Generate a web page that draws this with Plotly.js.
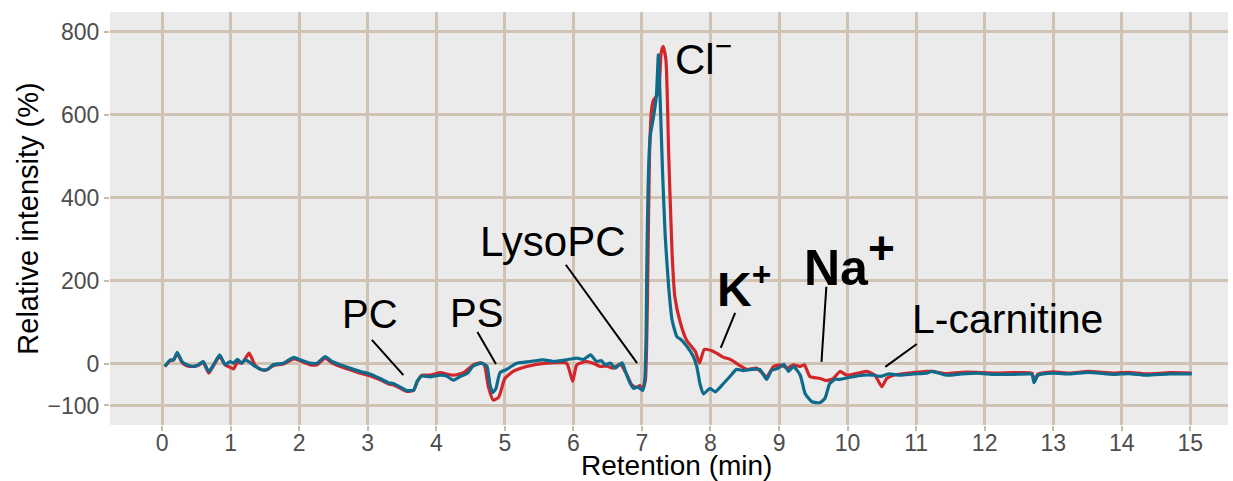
<!DOCTYPE html>
<html>
<head>
<meta charset="utf-8">
<script src="https://cdn.plot.ly/plotly-3.0.1.min.js"></script>
<style>html,body{margin:0;padding:0;background:#fff;}#chart{width:1233px;height:481px;}</style>
</head>
<body>
<div id="chart"></div>
<script>
// Retention time (min) and relative intensity (%) — blue trace
const blueX = [0.04,0.12,0.17,0.22,0.29,0.36,0.46,0.53,0.60,0.68,0.75,0.84,0.92,0.99,1.04,1.10,1.16,1.21,1.28,1.36,1.45,1.53,1.62,1.77,1.92,2.01,2.16,2.26,2.38,2.48,2.60,2.74,2.89,3.03,3.18,3.30,3.37,3.47,3.57,3.67,3.72,3.79,3.91,4.06,4.15,4.25,4.35,4.45,4.54,4.66,4.74,4.78,4.82,4.87,4.93,5.03,5.17,5.37,5.56,5.71,5.90,6.05,6.15,6.25,6.34,6.41,6.46,6.54,6.61,6.71,6.76,6.83,6.88,6.94,7.01,7.04,7.06,7.07,7.09,7.12,7.17,7.21,7.24,7.26,7.30,7.34,7.39,7.44,7.51,7.56,7.65,7.75,7.80,7.85,7.90,7.99,8.07,8.19,8.29,8.38,8.48,8.60,8.72,8.82,8.89,8.99,9.07,9.14,9.21,9.31,9.38,9.48,9.60,9.67,9.74,9.82,9.89,10.04,10.23,10.38,10.48,10.60,10.77,10.96,11.15,11.23,11.44,11.66,11.88,12.15,12.42,12.69,12.72,12.78,13.00,13.25,13.51,13.88,14.10,14.36,14.70,15.02];
const blueY = [-6,10,10,28,6,-2,-6,-2,6,-18,-2,22,-2,6,2,11,2,10,4,-6,-14,-14,-2,2,16,10,2,2,18,6,-2,-10,-18,-24,-35,-45,-47,-55,-64,-63,-42,-29,-31,-27,-29,-39,-30,-23,-5,2,-6,-47,-69,-59,-21,-13,2,6,10,6,10,14,11,22,6,8,-2,2,-10,3,-18,-47,-59,-55,-64,-40,60,220,427,548,596,644,745,668,467,307,186,106,66,60,44,18,-6,-50,-72,-59,-67,-47,-29,-13,-16,-13,-13,-37,-16,-10,-1,-18,-6,-27,-71,-91,-93,-83,-47,-37,-37,-32,-27,-27,-30,-24,-27,-24,-22,-18,-27,-24,-22,-25,-25,-25,-45,-27,-22,-24,-20,-25,-23,-27,-24,-24];
// red trace
const redX = [0.04,0.12,0.17,0.22,0.29,0.36,0.46,0.53,0.60,0.68,0.75,0.84,0.92,0.99,1.04,1.10,1.16,1.21,1.27,1.36,1.45,1.53,1.62,1.77,1.92,2.01,2.16,2.26,2.38,2.48,2.60,2.74,2.89,3.03,3.18,3.30,3.37,3.47,3.57,3.67,3.72,3.79,3.91,4.06,4.15,4.25,4.40,4.54,4.64,4.70,4.76,4.83,4.91,5.00,5.12,5.32,5.61,5.90,5.95,5.99,6.05,6.19,6.29,6.39,6.49,6.58,6.68,6.78,6.85,6.92,6.97,7.01,7.05,7.08,7.11,7.14,7.17,7.24,7.28,7.31,7.35,7.39,7.44,7.48,7.56,7.65,7.78,7.84,7.91,8.02,8.09,8.19,8.29,8.41,8.53,8.67,8.82,8.92,9.02,9.12,9.21,9.31,9.37,9.45,9.60,9.69,9.79,9.89,9.99,10.18,10.28,10.40,10.50,10.57,10.67,10.96,11.15,11.23,11.44,11.66,11.88,12.15,12.42,12.69,12.72,12.78,13.00,13.25,13.51,13.88,14.10,14.36,14.70,15.02];
const redY = [-6,8,10,25,4,-4,-6,-3,4,-22,-4,18,-2,-8,-12,4,2,12,26,-4,-14,-14,-4,0,12,8,-2,-2,14,2,-6,-14,-22,-28,-38,-48,-50,-58,-66,-63,-44,-27,-27,-21,-24,-27,-21,-2,3,-2,-55,-87,-80,-35,-18,-6,2,2,-20,-42,-2,6,2,-6,-5,-10,0,-26,-50,-57,-52,-62,-40,150,500,612,636,652,749,765,733,508,267,162,100,58,30,2,35,32,26,16,11,-2,-13,-10,-30,-6,-2,-10,-2,-6,-2,-30,-35,-40,-35,-18,-27,-21,-18,-27,-55,-35,-27,-21,-18,-18,-23,-20,-20,-22,-21,-22,-40,-24,-19,-22,-18,-22,-20,-24,-21,-22];

const xTicks = [0,1,2,3,4,5,6,7,8,9,10,11,12,13,14,15];
const yTicks = [-100,0,200,400,600,800];
const xTitle = 'Retention (min)';
const yTitle = 'Relative intensity (%)';

// annotation labels
const labelText = ['PC','PS','LysoPC','Cl<sup>−</sup>','<b>K<sup>+</sup></b>','<b>Na<sup><span style="font-size:46px">+</span></sup></b>','L-carnitine'];
const labelX = [3.03,4.58,5.70,7.45,8.06,9.33,10.91];
const labelY = [120,122,294,741,188,252,108];
const labelAnchor = ['center','center','center','left','left','left','left'];
const labelSize = [40,40,42,42,48,50,41];
// leader lines: start (near label) and end (near curve)
const lineX0 = [3.06,4.60,5.89,8.36,9.69,11.01];
const lineY0 = [58,77,239,123,186,48];
const lineX1 = [3.52,4.87,6.93,8.15,9.62,10.55];
const lineY1 = [-27,0,2,39,5,-7];

const FONT = 'Liberation Sans, Arial, Helvetica, sans-serif';

const traces = [
  {x: redX, y: redY, type: 'scatter', mode: 'lines', line: {color: '#d2262b', width: 3.2, shape: 'spline', smoothing: 0.5}, hoverinfo: 'skip'},
  {x: blueX, y: blueY, type: 'scatter', mode: 'lines', line: {color: '#0f6b8c', width: 3.2, shape: 'spline', smoothing: 0.5}, hoverinfo: 'skip'}
];

const annotations = labelText.map((t, i) => ({
  x: labelX[i], y: labelY[i], xref: 'x', yref: 'y', text: t, showarrow: false,
  xanchor: labelAnchor[i], yanchor: 'middle',
  font: {family: FONT, size: labelSize[i], color: '#000'}
}));
// x-axis title placed just below the tick labels
annotations.push({
  x: 0.507, y: -0.098, xref: 'paper', yref: 'paper', text: xTitle, showarrow: false,
  xanchor: 'center', yanchor: 'middle', borderpad: 0, font: {family: FONT, size: 28, color: '#000'}
});

const shapes = lineX0.map((_, i) => ({
  type: 'line', xref: 'x', yref: 'y', x0: lineX0[i], y0: lineY0[i], x1: lineX1[i], y1: lineY1[i],
  line: {color: '#000', width: 2}
}));

const layout = {
  width: 1233, height: 481,
  margin: {l: 110, r: 5, t: 12, b: 56},
  paper_bgcolor: '#ffffff', plot_bgcolor: '#ebebeb',
  showlegend: false,
  font: {family: FONT},
  xaxis: {
    range: [-0.76, 15.55], tickvals: xTicks, ticktext: xTicks.map(String),
    showgrid: true, gridcolor: '#d1c3b3', gridwidth: 3, zeroline: false,
    ticks: 'outside', ticklen: 5, tickwidth: 2, tickcolor: '#c9bcab',
    ticklabelstandoff: -8,
    tickfont: {family: FONT, size: 23, color: '#4d4d4d'},
    showline: false
  },
  yaxis: {
    range: [-147, 848], tickvals: yTicks, ticktext: yTicks.map(v => v < 0 ? '−' + Math.abs(v) : String(v)),
    showgrid: true, gridcolor: '#d1c3b3', gridwidth: 3, zeroline: false,
    ticks: 'outside', ticklen: 5, tickwidth: 2, tickcolor: '#c9bcab',
    tickfont: {family: FONT, size: 23, color: '#4d4d4d'},
    title: {text: yTitle, font: {family: FONT, size: 29, color: '#000'}, standoff: 0},
    showline: false
  },
  annotations: annotations,
  shapes: shapes
};

Plotly.newPlot('chart', traces, layout, {staticPlot: true, displayModeBar: false});
</script>
</body>
</html>
